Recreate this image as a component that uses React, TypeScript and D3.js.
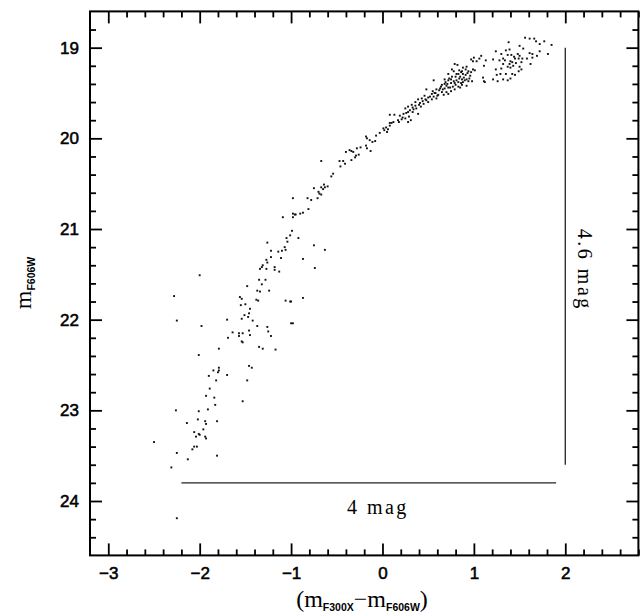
import { useEffect, useRef } from 'react'
import * as d3 from 'd3'

// [colour (mF300X - mF606W), magnitude mF606W]
type Star = [number, number]

const lowerMS: Star[] = [
  [-1.64, 22.14], [-1.57, 22.15], [-1.53, 22.15], [-1.46, 22.12], [-1.25, 22.13], [-1.45, 22.17],
  [-1.57, 22.18], [-1.22, 22.18], [-1.69, 22.2], [-1.54, 22.24], [-1.53, 22.25], [-1.35, 22.3],
  [-1.31, 22.32], [-1.17, 22.33], [-1.79, 22.32], [-2.01, 22.39], [-1.46, 22.51], [-1.43, 22.53],
  [-1.79, 22.53], [-1.85, 22.56], [-1.79, 22.56], [-1.8, 22.58], [-1.7, 22.61], [-1.9, 22.62],
  [-1.82, 22.67], [-1.48, 22.67], [-1.89, 22.76], [-1.93, 22.84], [-1.84, 22.86], [-1.53, 22.9],
  [-1.83, 22.94], [-1.91, 22.99], [-2.26, 23.0], [-2.01, 23.01], [-2.02, 23.1], [-1.94, 23.12],
  [-1.81, 23.12], [-2.14, 23.14], [-1.93, 23.15], [-1.96, 23.21], [-2.06, 23.24], [-2.01, 23.26],
  [-2.0, 23.27], [-2.04, 23.29], [-1.94, 23.29], [-1.93, 23.31], [-2.5, 23.35], [-2.06, 23.4],
  [-2.03, 23.4], [-2.08, 23.43], [-2.25, 23.47], [-1.81, 23.5], [-2.13, 23.54], [-2.31, 23.63],
  [-2.25, 24.19], [-2.28, 21.74], [-2.25, 22.01],
]

const midMS: Star[] = [
  [-0.54, 20.39], [-0.56, 20.42], [-0.64, 20.51], [-0.6, 20.53], [-0.67, 20.54], [-0.63, 20.54],
  [-0.75, 20.55], [-0.65, 20.56], [-0.7, 20.59], [-0.69, 20.61], [-0.67, 20.62], [-0.98, 20.66],
  [-0.82, 20.66], [-0.71, 20.66], [-0.78, 20.68], [-0.81, 20.78], [-0.87, 20.82], [-0.9, 20.83],
  [-0.98, 20.83], [-0.96, 20.84], [-0.95, 20.84], [-1.09, 20.87], [-0.98, 20.87], [-0.99, 21.02],
  [-1.01, 21.07], [-1.05, 21.1], [-0.92, 21.1], [-1.04, 21.14], [-1.26, 21.15], [-0.75, 21.18],
  [-1.07, 21.2], [-1.06, 21.23], [-1.22, 21.24], [-1.1, 21.24], [-1.14, 21.25], [-0.63, 21.23],
  [-1.22, 21.31], [-1.11, 21.32], [-0.87, 21.33], [-1.27, 21.34], [-1.26, 21.37], [-1.31, 21.4],
  [-1.32, 21.42], [-1.18, 21.42], [-1.34, 21.44], [-1.27, 21.44], [-0.74, 21.43], [-1.18, 21.45],
  [-1.13, 21.47], [-2.0, 21.51], [-1.35, 21.56], [-1.28, 21.56], [-1.32, 21.61], [-1.48, 21.63],
  [-1.37, 21.68], [-1.34, 21.69], [-1.24, 21.68], [-1.56, 21.75], [-1.54, 21.77], [-1.38, 21.78],
  [-1.36, 21.79], [-1.06, 21.79], [-1.01, 21.8], [-1.0, 21.8], [-0.87, 21.76], [-1.5, 21.83],
  [-1.55, 21.84], [-1.45, 21.88], [-1.46, 21.93], [-1.51, 21.95], [-1.47, 21.97], [-1.54, 21.99],
  [-1.42, 22.01], [-1.7, 22.0], [-1.0, 22.04], [-0.98, 22.04], [-1.37, 22.07], [-1.98, 22.07],
  [-1.26, 22.08],
]

const upperMS: Star[] = [
  [-0.67, 20.25], [-0.47, 20.25], [-0.43, 20.25], [-0.41, 20.28], [-0.46, 20.31], [-0.34, 20.24],
  [-0.3, 20.21], [-0.29, 20.19], [-0.36, 20.13], [-0.34, 20.14], [-0.32, 20.15], [-0.4, 20.15],
  [-0.26, 20.18], [-0.24, 20.1], [-0.28, 20.11], [-0.18, 20.08], [-0.17, 20.11], [-0.13, 20.14],
  [-0.11, 20.04], [-0.08, 20.03], [-0.14, 20.02], [-0.17, 20.0], [-0.18, 19.98], [-0.07, 19.97],
  [-0.03, 19.94], [0.02, 19.91], [0.04, 19.88], [0.06, 19.9], [0.01, 19.89], [0.08, 19.86],
  [0.1, 19.83], [0.12, 19.82], [0.08, 19.74], [0.13, 19.74], [0.08, 19.83], [0.05, 19.93],
]

const turnoff: Star[] = [
  [1.0, 19.11], [0.97, 19.13], [1.03, 19.15], [0.99, 19.15], [0.82, 19.19], [0.79, 19.18],
  [0.92, 19.21], [0.88, 19.22], [0.91, 19.24], [0.76, 19.24], [0.84, 19.25], [0.78, 19.26],
  [0.87, 19.26], [0.94, 19.26], [0.99, 19.24], [1.01, 19.25], [0.72, 19.29], [0.83, 19.29],
  [0.88, 19.29], [0.91, 19.3], [0.96, 19.31], [0.85, 19.32], [0.8, 19.32], [0.76, 19.32],
  [0.73, 19.34], [0.68, 19.35], [0.87, 19.35], [0.9, 19.36], [0.94, 19.37], [0.98, 19.37],
  [1.11, 19.37], [0.56, 19.36], [0.83, 19.38], [0.88, 19.38], [0.79, 19.39], [0.75, 19.39],
  [0.71, 19.4], [0.68, 19.4], [0.65, 19.41], [0.87, 19.41], [0.92, 19.42], [0.83, 19.43],
  [0.77, 19.43], [0.72, 19.44], [0.68, 19.45], [0.63, 19.45], [0.59, 19.46], [0.48, 19.46],
  [0.79, 19.46], [0.75, 19.48], [0.7, 19.49], [0.65, 19.49], [0.57, 19.5], [0.54, 19.51],
  [0.61, 19.52], [0.67, 19.52], [0.72, 19.51], [0.56, 19.54], [0.52, 19.54], [0.46, 19.53],
  [0.59, 19.56], [0.54, 19.57], [0.48, 19.58], [0.43, 19.56], [0.39, 19.57], [0.36, 19.6],
  [0.5, 19.6], [0.45, 19.62], [0.4, 19.63], [0.36, 19.64], [0.32, 19.63], [0.28, 19.65],
  [0.42, 19.65], [0.37, 19.67], [0.34, 19.68], [0.3, 19.69], [0.25, 19.67], [0.28, 19.71],
  [0.33, 19.71], [0.23, 19.73], [0.39, 19.73], [0.19, 19.75], [0.29, 19.76], [0.25, 19.78],
  [0.21, 19.79], [0.17, 19.8], [0.31, 19.8], [0.28, 19.82], [0.18, 19.82],
  [0.72, 19.36], [0.75, 19.35], [0.78, 19.37], [0.81, 19.36], [0.84, 19.34], [0.86, 19.39],
  [0.89, 19.33], [0.92, 19.35], [0.95, 19.34], [0.7, 19.42], [0.74, 19.44], [0.8, 19.41],
  [0.85, 19.44], [0.62, 19.47], [0.66, 19.46], [0.58, 19.5], [0.5, 19.55], [0.44, 19.59],
  [0.41, 19.61], [0.93, 19.28], [0.97, 19.27], [0.86, 19.27], [0.81, 19.29], [0.69, 19.38],
  [0.64, 19.43], [0.55, 19.48], [0.6, 19.53], [0.47, 19.57], [0.33, 19.66], [0.26, 19.72],
  [0.22, 19.77],
]

const subgiants: Star[] = [
  [1.56, 18.89], [1.61, 18.9], [1.66, 18.9], [1.68, 18.93], [1.77, 18.93], [1.85, 18.97],
  [1.38, 18.94], [1.72, 18.96], [1.5, 18.98], [1.54, 19.01], [1.81, 19.07], [1.72, 19.04],
  [1.24, 19.04], [1.35, 19.03], [1.39, 19.02], [1.61, 19.06], [1.64, 19.07], [1.48, 19.07],
  [1.5, 19.09], [1.69, 19.09], [1.37, 19.08], [1.41, 19.08], [1.44, 19.1], [1.3, 19.07],
  [1.32, 19.12], [1.45, 19.12], [1.49, 19.12], [1.53, 19.12], [1.58, 19.12], [1.64, 19.11],
  [1.08, 19.09], [1.06, 19.12], [1.13, 19.14], [1.21, 19.13], [1.28, 19.14], [1.34, 19.14],
  [1.4, 19.15], [1.42, 19.16], [1.46, 19.17], [1.52, 19.16], [1.62, 19.18], [1.39, 19.18],
  [1.32, 19.18], [1.43, 19.2], [1.37, 19.21], [1.5, 19.21], [1.11, 19.2], [1.4, 19.22],
  [1.3, 19.23], [1.24, 19.24], [1.52, 19.24], [1.49, 19.26], [1.29, 19.29], [1.35, 19.29],
  [1.42, 19.29], [1.25, 19.3], [1.45, 19.3], [1.1, 19.33], [1.21, 19.35], [1.4, 19.34],
  [1.32, 19.35], [1.26, 19.37], [1.37, 19.36], [1.12, 19.38],
]

const xDomain: [number, number] = [-3.2, 2.8]
const yDomain: [number, number] = [18.6, 24.6]
const xTickLabels = [-3, -2, -1, 0, 1, 2]
const yTickLabels = [19, 20, 21, 22, 23, 24]

// scale bars drawn on the diagram (data units)
const magBarColour = 2
const magBarRange: [number, number] = [19, 23.6]
const colourBarMag = 23.8
const colourBarRange: [number, number] = [-2.2, 1.9]

const SANS = '"Liberation Sans", Arial, sans-serif'
const SERIF = '"Liberation Serif", "Times New Roman", serif'

export default function App() {
  const svgRef = useRef<SVGSVGElement>(null)

  useEffect(() => {
    if (!svgRef.current) return
    const svg = d3.select(svgRef.current)
    svg.selectAll('*').remove()

    const W = 644
    const H = 613
    const margin = { top: 11.4, right: 5.6, bottom: 57.6, left: 90 }

    const x = d3.scaleLinear().domain(xDomain).range([margin.left, W - margin.right])
    const y = d3.scaleLinear().domain(yDomain).range([margin.top, H - margin.bottom])

    const xMinor = d3.range(-15, 15).filter(i => i % 5 !== 0).map(i => i / 5)
    const yMinor = d3.range(94, 123).filter(i => i % 5 !== 0).map(i => i / 5)

    const styleAxis = (sel: d3.Selection<SVGGElement, unknown, null, undefined>) => {
      sel.select('.domain').remove()
      sel.selectAll('.tick line').attr('stroke', '#000').attr('stroke-width', 1.8)
      sel.selectAll('.tick text')
        .attr('font-family', SANS).attr('font-size', 17).attr('fill', '#000')
        .attr('stroke', '#000').attr('stroke-width', 0.55)
    }

    const none = () => ''
    const fmt = (d: d3.NumberValue) => {
      const v = +d
      return v < 0 ? `\u2212${Math.abs(v)}` : `${v}`
    }

    // bottom
    svg.append('g').attr('transform', `translate(0,${y(yDomain[1])})`)
      .call(d3.axisBottom(x).tickValues(xTickLabels).tickSize(-12).tickPadding(12).tickFormat(fmt))
      .call(styleAxis)
    svg.append('g').attr('transform', `translate(0,${y(yDomain[1])})`)
      .call(d3.axisBottom(x).tickValues(xMinor).tickSize(-6).tickFormat(none))
      .call(styleAxis)
    // top
    svg.append('g').attr('transform', `translate(0,${y(yDomain[0])})`)
      .call(d3.axisTop(x).tickValues(xTickLabels).tickSize(-12).tickFormat(none))
      .call(styleAxis)
    svg.append('g').attr('transform', `translate(0,${y(yDomain[0])})`)
      .call(d3.axisTop(x).tickValues(xMinor).tickSize(-6).tickFormat(none))
      .call(styleAxis)
    // left
    svg.append('g').attr('transform', `translate(${x(xDomain[0])},0)`)
      .call(d3.axisLeft(y).tickValues(yTickLabels).tickSize(-12).tickPadding(11).tickFormat(fmt))
      .call(styleAxis)
    svg.append('g').attr('transform', `translate(${x(xDomain[0])},0)`)
      .call(d3.axisLeft(y).tickValues(yMinor).tickSize(-6).tickFormat(none))
      .call(styleAxis)
    // right
    svg.append('g').attr('transform', `translate(${x(xDomain[1])},0)`)
      .call(d3.axisRight(y).tickValues(yTickLabels).tickSize(-12).tickFormat(none))
      .call(styleAxis)
    svg.append('g').attr('transform', `translate(${x(xDomain[1])},0)`)
      .call(d3.axisRight(y).tickValues(yMinor).tickSize(-6).tickFormat(none))
      .call(styleAxis)

    // frame
    svg.append('rect')
      .attr('x', x(xDomain[0])).attr('y', y(yDomain[0]))
      .attr('width', x(xDomain[1]) - x(xDomain[0]))
      .attr('height', y(yDomain[1]) - y(yDomain[0]))
      .attr('fill', 'none').attr('stroke', '#000').attr('stroke-width', 2)

    // stars
    const stars = [...lowerMS, ...midMS, ...upperMS, ...turnoff, ...subgiants]
    const s = 1.9
    svg.append('g').selectAll('rect')
      .data(stars)
      .join('rect')
      .attr('x', d => x(d[0]) - s / 2)
      .attr('y', d => y(d[1]) - s / 2)
      .attr('width', s).attr('height', s)
      .attr('fill', '#111')

    // scale bars
    svg.append('line')
      .attr('x1', x(magBarColour)).attr('x2', x(magBarColour))
      .attr('y1', y(magBarRange[0])).attr('y2', y(magBarRange[1]))
      .attr('stroke', '#222').attr('stroke-width', 1.3)
    svg.append('line')
      .attr('x1', x(colourBarRange[0])).attr('x2', x(colourBarRange[1]))
      .attr('y1', y(colourBarMag)).attr('y2', y(colourBarMag))
      .attr('stroke', '#222').attr('stroke-width', 1.3)

    svg.append('text')
      .attr('transform', `translate(${x(magBarColour) + 13},${y(21.45)}) rotate(90)`)
      .attr('text-anchor', 'middle')
      .attr('font-family', SERIF).attr('font-size', 20).attr('letter-spacing', 2.5)
      .text(`${(magBarRange[1] - magBarRange[0]).toFixed(1)} mag`)

    svg.append('text')
      .attr('x', x(-0.05)).attr('y', y(colourBarMag) + 31)
      .attr('text-anchor', 'middle')
      .attr('font-family', SERIF).attr('font-size', 20).attr('letter-spacing', 2.5)
      .text('4 mag')

    // axis titles
    const sub = (t: d3.Selection<SVGTextElement, unknown, null, undefined>, main: string, s1: string, dy: number) => {
      t.append('tspan').attr('dy', dy).text(main)
      t.append('tspan').attr('dy', 4)
        .attr('font-family', SANS).attr('font-weight', 'bold').attr('font-size', 10.5)
        .text(s1)
    }

    const xt = svg.append('text')
      .attr('x', 362).attr('y', 607)
      .attr('text-anchor', 'middle')
      .attr('font-family', SERIF).attr('font-size', 24).attr('fill', '#000')
    xt.append('tspan').text('(')
    sub(xt, 'm', 'F300X', 0)
    sub(xt, '\u2212m', 'F606W', -4)
    xt.append('tspan').attr('dy', -4).text(')')

    const yt = svg.append('text')
      .attr('transform', 'translate(31,283) rotate(-90)')
      .attr('text-anchor', 'middle')
      .attr('font-family', SERIF).attr('font-size', 24).attr('fill', '#000')
    sub(yt, 'm', 'F606W', 0)
  }, [])

  return (
    <svg
      ref={svgRef}
      width={644}
      height={613}
      style={{ position: 'absolute', left: 0, top: 0, background: '#fff' }}
    />
  )
}
